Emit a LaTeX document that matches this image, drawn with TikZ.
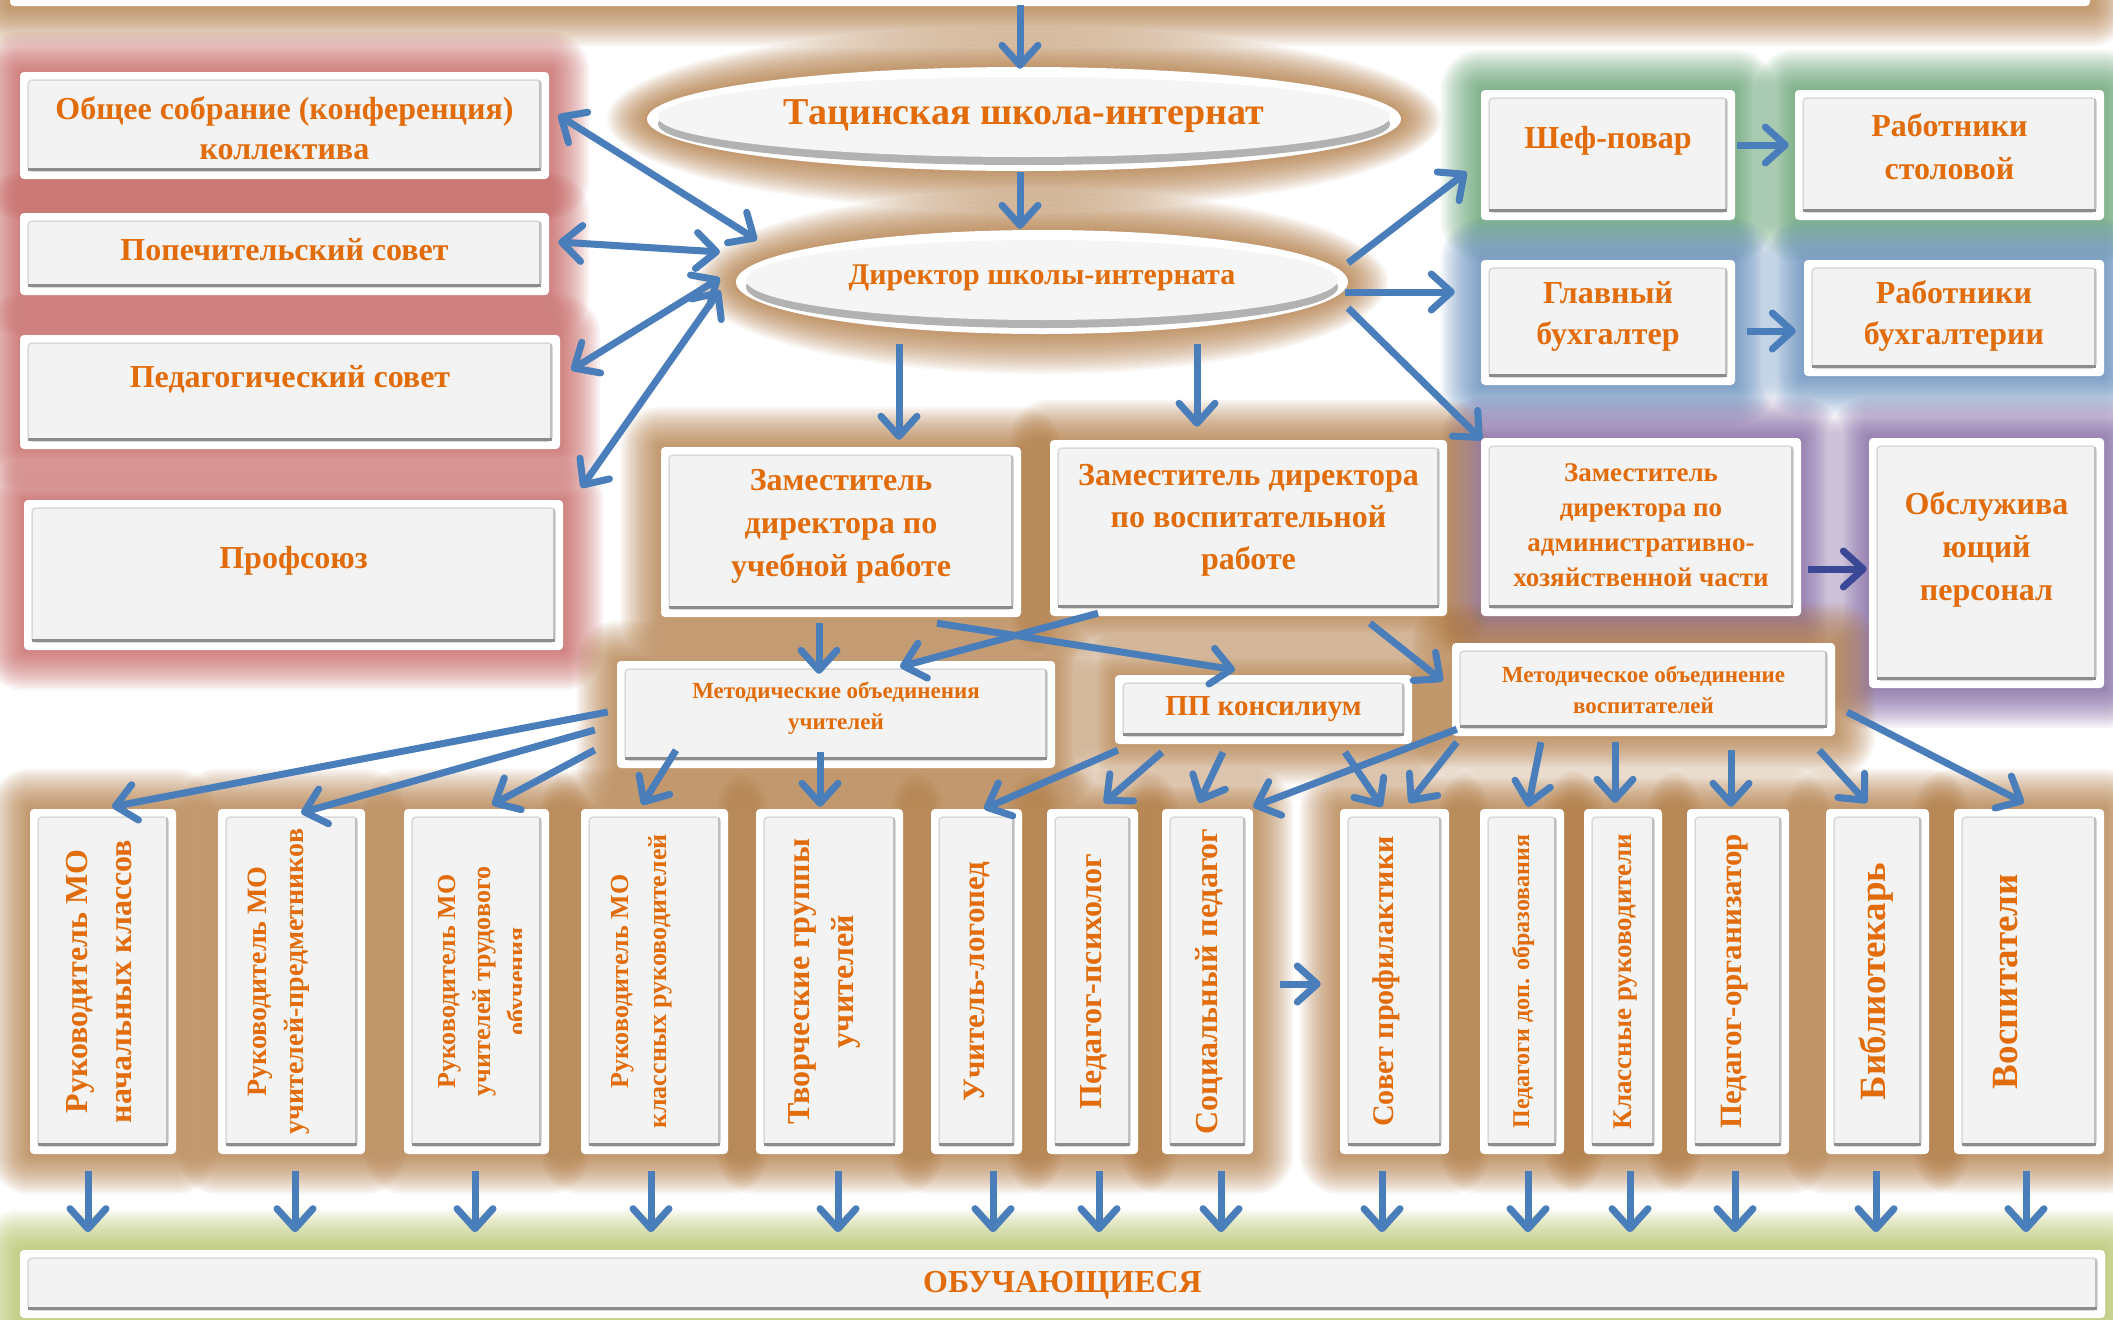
\documentclass[tikz,border=0pt]{standalone}
\usepackage{fontspec}
\setmainfont{Liberation Serif}
\usetikzlibrary{arrows.meta,calc,shapes.geometric}
\definecolor{txt}{RGB}{226,107,10}
\definecolor{arrc}{RGB}{74,126,187}
\definecolor{arrdark}{RGB}{58,72,150}
\definecolor{gbrown}{RGB}{172,112,50}
\definecolor{gred}{RGB}{192,80,77}
\definecolor{ggreen}{RGB}{78,150,95}
\definecolor{gblue}{RGB}{75,125,180}
\definecolor{gpurple}{RGB}{112,80,150}
\definecolor{gyellow}{RGB}{175,190,85}
\definecolor{panel}{RGB}{243,243,243}
\pgfdeclarelayer{bglayer}
\pgfdeclarelayer{glowlayer}
\pgfsetlayers{bglayer,glowlayer,main}
\newcommand\fnt[2]{\fontsize{#1}{#2}\selectfont\bfseries}
\newcommand\glowbox[2]{%
  \begin{pgfonlayer}{glowlayer}
  \foreach \k in {1,...,16}{%
    \pgfmathsetmacro\gd{2.5*\k}%
    \fill[#2, fill opacity=0.068, rounded corners=\gd pt] ([shift={(-\gd pt,-\gd pt)}]#1.south west) rectangle ([shift={(\gd pt,\gd pt)}]#1.north east);
  }
  \end{pgfonlayer}}
\newcommand\glowell[4]{%
  \begin{pgfonlayer}{glowlayer}
  \foreach \k in {1,...,16}{%
    \pgfmathsetmacro\gd{2.5*\k}%
    \fill[#4, fill opacity=0.068] (#1.center) ellipse [x radius=#2pt+\gd pt, y radius=#3pt+\gd pt];
  }
  \end{pgfonlayer}}
\newcommand\down[2]{\draw[arr] ($(#1.south)+(#2,17)$) -- ($(#1.south)+(#2,78)$);}
\tikzset{
  bevel/.style={path picture={
    \fill[panel] ([shift={(8pt,8pt)}]path picture bounding box.south west) rectangle ([shift={(-8pt,-8pt)}]path picture bounding box.north east);
    \draw[black!15, line width=1.5pt] ([shift={(8pt,8pt)}]path picture bounding box.south west) rectangle ([shift={(-8pt,-8pt)}]path picture bounding box.north east);
    \draw[black!25, line width=2pt] ([shift={(-9pt,9pt)}]path picture bounding box.south east) -- ([shift={(-9pt,-9pt)}]path picture bounding box.north east);
    \draw[black!45, line width=3.5pt] ([shift={(8pt,9.5pt)}]path picture bounding box.south west) -- ([shift={(-8pt,9.5pt)}]path picture bounding box.south east);
  }},
  box/.style={rectangle, fill=white, rounded corners=4pt, inner sep=0pt, bevel},
  ell/.style={ellipse, fill=white, inner sep=0pt},
  lbl/.style={text=txt, align=center, inner sep=0pt},
  arr/.style={draw=arrc, line width=7pt, -{Straight Barb[length=20pt,width=36pt,round]}},
  darr/.style={draw=arrc, line width=7pt, {Straight Barb[length=20pt,width=36pt,round]}-{Straight Barb[length=20pt,width=36pt,round]}},
}
\begin{document}
\begin{tikzpicture}[x=1pt,y=-1pt]
\begin{pgfonlayer}{bglayer}
\fill[white] (0,0) rectangle (2113,1320);
\end{pgfonlayer}
\useasboundingbox (0,0) rectangle (2113,1320);

% top bar
\node[box, minimum width=2080pt, minimum height=46pt] (top) at (1050,-17) {};

% ellipses
\node[ell, minimum width=754pt, minimum height=104pt] (e1) at (1024,119) {};
\fill[black!30] ($(e1.center)+(0,5)$) ellipse [x radius=366pt, y radius=41pt];
\fill[black!4] ($(e1.center)+(0,-2)$) ellipse [x radius=366pt, y radius=40pt];
\node[ell, minimum width=612pt, minimum height=104pt] (e2) at (1042,282) {};
\fill[black!30] ($(e2.center)+(0,5)$) ellipse [x radius=296pt, y radius=41pt];
\fill[black!4] ($(e2.center)+(0,-2)$) ellipse [x radius=296pt, y radius=40pt];
\node[lbl, font=\fnt{38}{44}] (e1t) at (1024,116) {Тацинская школа-интернат};
\node[lbl, font=\fnt{30}{36}] (e2t) at (1042,278) {Директор школы-интерната};

% left column
\node[box, minimum width=529pt, minimum height=107pt] (a1) at (284.5,125.5) {};
\node[lbl, font=\fnt{32}{40}] (a1t) at (284.5,128) {Общее собрание (конференция)\\коллектива};
\node[box, minimum width=529pt, minimum height=82pt] (a2) at (284.5,254) {};
\node[lbl, font=\fnt{32}{40}] (a2t) at (284.5,250) {Попечительский совет};
\node[box, minimum width=540pt, minimum height=114pt] (a3) at (290,392) {};
\node[lbl, font=\fnt{32}{40}] (a3t) at (290,379) {Педагогический совет};
\node[box, minimum width=539pt, minimum height=150pt] (a4) at (293.5,575) {};
\node[lbl, font=\fnt{32}{40}] (a4t) at (293.5,561) {Профсоюз};

% right column
\node[box, minimum width=254pt, minimum height=130pt] (r1) at (1608,155) {};
\node[lbl, font=\fnt{32}{43}] (r1t) at (1608,141) {Шеф-повар};
\node[box, minimum width=309pt, minimum height=130pt] (r2) at (1949.5,155) {};
\node[lbl, font=\fnt{32}{43}] (r2t) at (1949.5,147) {Работники\\столовой};
\node[box, minimum width=254pt, minimum height=125pt] (r3) at (1608,322.5) {};
\node[lbl, font=\fnt{32}{41}] (r3t) at (1608,316) {Главный\\бухгалтер};
\node[box, minimum width=300pt, minimum height=116pt] (r4) at (1954,318) {};
\node[lbl, font=\fnt{32}{41}] (r4t) at (1954,316) {Работники\\бухгалтерии};
\node[box, minimum width=320pt, minimum height=178pt] (r5) at (1641,527) {};
\node[lbl, font=\fnt{27}{35}] (r5t) at (1641,525) {Заместитель\\директора по\\административно-\\хозяйственной части};
\node[box, minimum width=235pt, minimum height=250pt] (r6) at (1986.5,563) {};
\node[lbl, font=\fnt{32}{43}] (r6t) at (1986.5,549) {Обслужива\\ющий\\персонал};

% middle
\node[box, minimum width=360pt, minimum height=170pt] (m1) at (841,532) {};
\node[lbl, font=\fnt{32}{43}] (m1t) at (841,526) {Заместитель\\директора по\\учебной работе};
\node[box, minimum width=397pt, minimum height=176pt] (m2) at (1248.5,528) {};
\node[lbl, font=\fnt{32}{42}] (m2t) at (1248.5,520) {Заместитель директора\\по воспитательной\\работе};
\node[box, minimum width=438pt, minimum height=107pt] (c1) at (836,714.5) {};
\node[lbl, font=\fnt{23}{31}] (c1t) at (836,708) {Методические объединения\\учителей};
\node[box, minimum width=297pt, minimum height=69pt] (c2) at (1263.5,709.5) {};
\node[lbl, font=\fnt{29}{35}] (c2t) at (1263.5,709) {ПП консилиум};
\node[box, minimum width=383pt, minimum height=93pt] (c3) at (1643.5,689.5) {};
\node[lbl, font=\fnt{23}{31}] (c3t) at (1643.5,690) {Методическое объединение\\воспитателей};

% bottom vertical boxes
\node[box, minimum width=146pt, minimum height=345pt] (b1) at (103,981.5) {};
\node[box, minimum width=147pt, minimum height=345pt] (b2) at (291.5,981.5) {};
\node[box, minimum width=145pt, minimum height=345pt] (b3) at (476.5,981.5) {};
\node[box, minimum width=147pt, minimum height=345pt] (b4) at (654.5,981.5) {};
\node[box, minimum width=147pt, minimum height=345pt] (b5) at (829.5,981.5) {};
\node[box, minimum width=91pt, minimum height=345pt] (b6) at (976.5,981.5) {};
\node[box, minimum width=91pt, minimum height=345pt] (b7) at (1092.5,981.5) {};
\node[box, minimum width=91pt, minimum height=345pt] (b8) at (1207.5,981.5) {};
\node[box, minimum width=109pt, minimum height=345pt] (b9) at (1394.5,981.5) {};
\node[box, minimum width=84pt, minimum height=345pt] (b10) at (1522,981.5) {};
\node[box, minimum width=78pt, minimum height=345pt] (b11) at (1623,981.5) {};
\node[box, minimum width=102pt, minimum height=345pt] (b12) at (1738,981.5) {};
\node[box, minimum width=103pt, minimum height=345pt] (b13) at (1877.5,981.5) {};
\node[box, minimum width=150pt, minimum height=345pt] (b14) at (2029,981.5) {};

\node[lbl, rotate=90, font=\fnt{32}{44}] (b1t) at (99,981.5) {Руководитель МО\\начальных классов};
\node[lbl, rotate=90, font=\fnt{28}{37}] (b2t) at (279,981.5) {Руководитель МО\\учителей-предметников};
\begin{scope}
\clip (404,809) rectangle (521,1154);
\node[lbl, rotate=90, font=\fnt{26}{35}] (b3t) at (485,981.5) {Руководитель МО\\учителей трудового\\обучения};
\end{scope}
\node[lbl, rotate=90, font=\fnt{26}{38}] (b4t) at (642,981.5) {Руководитель МО\\классных руководителей};
\node[lbl, rotate=90, font=\fnt{32}{44}] (b5t) at (824,981.5) {Творческие группы\\учителей};
\node[lbl, rotate=90, font=\fnt{31}{40}] (b6t) at (977,981.5) {Учитель-логопед};
\node[lbl, rotate=90, font=\fnt{32}{40}] (b7t) at (1094,981.5) {Педагог-психолог};
\node[lbl, rotate=90, font=\fnt{32}{40}] (b8t) at (1209,981.5) {Социальный педагог};
\node[lbl, rotate=90, font=\fnt{30}{40}] (b9t) at (1386,981.5) {Совет профилактики};
\node[lbl, rotate=90, font=\fnt{24}{30}] (b10t) at (1523,981.5) {Педагоги доп. образования};
\node[lbl, rotate=90, font=\fnt{27}{34}] (b11t) at (1626,981.5) {Классные руководители};
\node[lbl, rotate=90, font=\fnt{31}{40}] (b12t) at (1735,981.5) {Педагог-организатор};
\node[lbl, rotate=90, font=\fnt{37}{44}] (b13t) at (1876,981.5) {Библиотекарь};
\node[lbl, rotate=90, font=\fnt{37}{44}] (b14t) at (2006,981.5) {Воспитатели};

% bottom bar
\node[box, minimum width=2085pt, minimum height=68pt] (bar) at (1062.5,1284) {};
\node[lbl, font=\fnt{32}{40}] (bart) at (1062.5,1285) {ОБУЧАЮЩИЕСЯ};

% glows
\glowbox{top}{gbrown}
\glowell{e1}{377}{52}{gbrown}
\glowell{e2}{306}{52}{gbrown}
\foreach \n in {a1,a2,a3,a4} {\glowbox{\n}{gred}}
\foreach \n in {r1,r2} {\glowbox{\n}{ggreen}}
\foreach \n in {r3,r4} {\glowbox{\n}{gblue}}
\foreach \n in {r5,r6} {\glowbox{\n}{gpurple}}
\foreach \n in {m1,m2,c1,c2,c3,b1,b2,b3,b4,b5,b6,b7,b8,b9,b10,b11,b12,b13,b14} {\glowbox{\n}{gbrown}}
\glowbox{bar}{gyellow}

% arrows
\draw[arr] ($(e1.north)+(-4,-62)$) -- ($(e1.north)+(-4,2)$);
\draw[arr] ($(e1.south)+(-4,1)$) -- ($(e2.north)+(-22,-1)$);
\draw[darr] ($(a1.east)+(9,-10.5)$) -- ($(e2.center)+(-285,-42)$);
\draw[darr] ($(a2.east)+(9,-12)$) -- ($(e2.center)+(-322,-30)$);
\draw[darr] ($(a3.east)+(11,-22)$) -- ($(e2.center)+(-322,-4)$);
\draw[darr] ($(a4.north east)+(18,-12)$) -- ($(e2.center)+(-322,8)$);
\draw[arr] ($(e2.center)+(306,-19)$) -- ($(r1.west)+(-14,17)$);
\draw[arr] ($(e2.center)+(303,10)$) -- ($(r3.west)+(-26,-30.5)$);
\draw[arr] ($(e2.center)+(306,26)$) -- ($(r5.north west)+(1,2)$);
\draw[arr] ($(r1.east)+(2,-10)$) -- ($(r2.west)+(-6,-10)$);
\draw[arr] ($(r3.east)+(12,8.5)$) -- ($(r4.west)+(-8,13)$);
\draw[arr, draw=arrdark] ($(r5.east)+(7,42)$) -- ($(r6.west)+(-2,6)$);
\draw[arr] ($(e2.center)+(-143,62)$) -- ($(m1.north)+(58,-7)$);
\draw[arr] ($(e2.center)+(155,62)$) -- ($(m2.north)+(-51.5,-13)$);
\draw[arr] ($(m1.south)+(-22,6)$) -- ($(c1.north)+(-17,13)$);
\draw[arr] ($(m2.south)+(-150.5,-3)$) -- ($(c1.north)+(64,6)$);
\draw[arr] ($(m1.south)+(96,6)$) -- ($(c2.north)+(-28.5,-5)$);
\draw[arr] ($(m2.south)+(121.5,7)$) -- ($(c3.west)+(-9,-8.5)$);
\draw[arr] ($(c1.west)+(-9,-2.5)$) -- ($(b1.north)+(9,-2)$);
\draw[arr] ($(c1.west)+(-22,15.5)$) -- ($(b2.north)+(9.5,4)$);
\draw[arr] ($(c1.west)+(-22,35.5)$) -- ($(b3.north)+(15.5,-4)$);
\draw[arr] ($(c1.south)+(-160,-18)$) -- ($(b4.north)+(-12.5,-4)$);
\draw[arr] ($(c1.south)+(-16,-16)$) -- ($(b5.north)+(-9.5,-2)$);
\draw[arr] ($(c2.south west)+(3,6)$) -- ($(b6.north)+(7.5,0)$);
\draw[arr] ($(c2.south)+(-101.5,8)$) -- ($(b7.north)+(11.5,-6)$);
\draw[arr] ($(c2.south)+(-40.5,8)$) -- ($(b8.north)+(-8.5,-6)$);
\draw[arr] ($(c2.south)+(81.5,8)$) -- ($(b9.north)+(-12.5,-2)$);
\draw[arr] ($(c3.south west)+(5,-7)$) -- ($(b8.north east)+(0,-2)$);
\draw[arr] ($(c3.south west)+(5,6)$) -- ($(b9.north)+(14.5,-6)$);
\draw[arr] ($(c3.south)+(-102.5,6)$) -- ($(b10.north)+(6,-2)$);
\draw[arr] ($(c3.south)+(-28.5,6)$) -- ($(b11.north)+(-8,-6)$);
\draw[arr] ($(c3.south)+(87.5,14)$) -- ($(b12.north)+(-7,-2)$);
\draw[arr] ($(c3.south east)+(-16,14)$) -- ($(b13.north)+(-10.5,-6)$);
\draw[arr] ($(c3.east)+(12,22.5)$) -- ($(b14.north)+(-5,-6)$);
\draw[arr] ($(b8.east)+(27,2.5)$) -- ($(b9.west)+(-19,2.5)$);
\down{b1}{-15}
\down{b2}{3.5}
\down{b3}{-1.5}
\down{b4}{-3.5}
\down{b5}{8.5}
\down{b6}{16.5}
\down{b7}{6.5}
\down{b8}{13.5}
\down{b9}{-12.5}
\down{b10}{6}
\down{b11}{7}
\down{b12}{-3}
\down{b13}{-1.5}
\down{b14}{-3}
\end{tikzpicture}
\end{document}
